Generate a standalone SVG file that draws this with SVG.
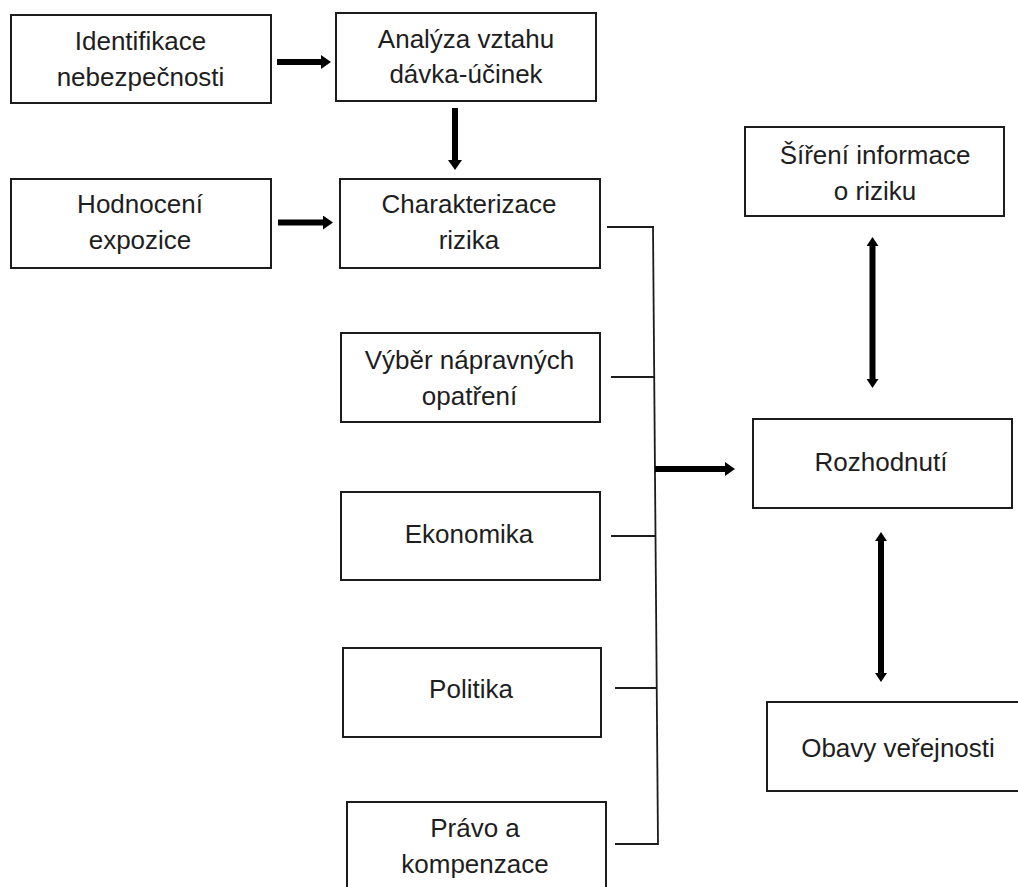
<svg xmlns="http://www.w3.org/2000/svg" width="1018" height="887" viewBox="0 0 1018 887">
<style>
.box{fill:#fff;stroke:#1c1c1c;stroke-width:2}
.t{font-family:"Liberation Sans",Arial,sans-serif;font-size:26px;fill:#1e1e1e;text-anchor:middle}
.thin{stroke:#1c1c1c;stroke-width:1.8;fill:none}
.thick{stroke:#000;stroke-width:6;fill:none}
</style>
<defs>
<marker id="head" markerUnits="userSpaceOnUse" markerWidth="10" markerHeight="14" refX="0" refY="7" orient="auto">
<path d="M0,0 L10,7 L0,14 Z" fill="#000"/>
</marker>
<marker id="head2" markerUnits="userSpaceOnUse" markerWidth="9" markerHeight="12" refX="0" refY="6" orient="auto-start-reverse">
<path d="M0,0 L9,6 L0,12 Z" fill="#000"/>
</marker>
</defs>
<rect width="1018" height="887" fill="#fff"/>
<g id="connectors">
<line class="thick" x1="277" y1="62" x2="321" y2="62" marker-end="url(#head)"/>
<line class="thick" x1="455" y1="108" x2="455" y2="160" marker-end="url(#head)"/>
<line class="thick" x1="278" y1="222.5" x2="323" y2="222.5" marker-end="url(#head)"/>
<line class="thin" x1="653" y1="227" x2="658" y2="845"/>
<line class="thin" x1="607" y1="227" x2="654" y2="227"/>
<line class="thin" x1="611" y1="377" x2="655" y2="377"/>
<line class="thin" x1="611" y1="536" x2="656" y2="536"/>
<line class="thin" x1="615" y1="688" x2="657" y2="688"/>
<line class="thin" x1="615" y1="844" x2="658" y2="844"/>
<line class="thick" x1="655" y1="469" x2="725" y2="469" stroke-width="5.5" marker-end="url(#head)"/>
<line class="thick" x1="872.5" y1="246" x2="872.5" y2="379" marker-start="url(#head2)" marker-end="url(#head2)"/>
<line class="thick" x1="881" y1="541" x2="881" y2="673" marker-start="url(#head2)" marker-end="url(#head2)"/>
</g>
<g id="identifikace">
<rect class="box" x="11" y="15" width="260" height="88"/>
<text class="t" x="140.5" y="50">Identifikace</text>
<text class="t" x="140.5" y="86">nebezpečnosti</text>
</g>
<g id="analyza">
<rect class="box" x="336" y="13" width="260" height="88"/>
<text class="t" x="466" y="48">Analýza vztahu</text>
<text class="t" x="466" y="83">dávka-účinek</text>
</g>
<g id="hodnoceni">
<rect class="box" x="11" y="179" width="260" height="89"/>
<text class="t" x="140" y="213">Hodnocení</text>
<text class="t" x="140" y="249">expozice</text>
</g>
<g id="charakterizace">
<rect class="box" x="340" y="179" width="260" height="89"/>
<text class="t" x="469" y="213">Charakterizace</text>
<text class="t" x="469" y="249">rizika</text>
</g>
<g id="sireni">
<rect class="box" x="745" y="127" width="259" height="89"/>
<text class="t" x="875" y="164">Šíření informace</text>
<text class="t" x="875" y="200">o riziku</text>
</g>
<g id="vyber">
<rect class="box" x="341" y="333" width="259" height="89"/>
<text class="t" x="469.5" y="369">Výběr nápravných</text>
<text class="t" x="469.5" y="405">opatření</text>
</g>
<g id="rozhodnuti">
<rect class="box" x="753" y="419" width="259" height="89"/>
<text class="t" x="881" y="471">Rozhodnutí</text>
</g>
<g id="ekonomika">
<rect class="box" x="341" y="492" width="259" height="88"/>
<text class="t" x="469" y="543">Ekonomika</text>
</g>
<g id="politika">
<rect class="box" x="343" y="648" width="258" height="89"/>
<text class="t" x="471" y="698">Politika</text>
</g>
<g id="pravo">
<rect class="box" x="347" y="802" width="259" height="90"/>
<text class="t" x="475" y="837">Právo a</text>
<text class="t" x="475" y="873">kompenzace</text>
</g>
<g id="obavy">
<rect class="box" x="767" y="702" width="260" height="89"/>
<text class="t" x="898" y="757">Obavy veřejnosti</text>
</g>
</svg>
